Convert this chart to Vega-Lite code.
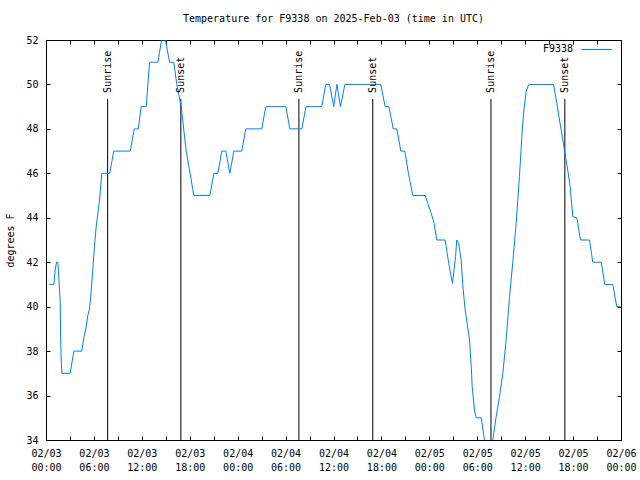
{
  "$schema": "https://vega.github.io/schema/vega-lite/v6.json",
  "width": 575,
  "height": 400,
  "autosize": {"type": "none"},
  "padding": {"left": 46, "top": 40, "right": 19, "bottom": 40},
  "background": "white",
  "title": {"text": "Temperature for F9338 on 2025-Feb-03 (time in UTC)", "font": "DejaVu Sans Mono", "fontSize": 10, "fontWeight": "normal", "color": "black", "anchor": "middle", "frame": "group", "offset": 10},
  "datasets": {
    "temps": [
      {"t": "2025-02-03T00:26:00Z", "v": 41},
      {"t": "2025-02-03T00:59:00Z", "v": 41},
      {"t": "2025-02-03T01:08:00Z", "v": 41.6},
      {"t": "2025-02-03T01:19:00Z", "v": 42},
      {"t": "2025-02-03T01:29:00Z", "v": 42},
      {"t": "2025-02-03T01:36:00Z", "v": 41.35},
      {"t": "2025-02-03T01:47:00Z", "v": 40.2},
      {"t": "2025-02-03T01:49:00Z", "v": 38.9},
      {"t": "2025-02-03T01:54:00Z", "v": 37.6},
      {"t": "2025-02-03T01:59:00Z", "v": 37},
      {"t": "2025-02-03T03:02:00Z", "v": 37},
      {"t": "2025-02-03T03:29:00Z", "v": 38},
      {"t": "2025-02-03T04:29:00Z", "v": 38},
      {"t": "2025-02-03T04:44:00Z", "v": 38.6},
      {"t": "2025-02-03T05:02:00Z", "v": 39.1},
      {"t": "2025-02-03T05:14:00Z", "v": 39.6},
      {"t": "2025-02-03T05:27:00Z", "v": 39.9},
      {"t": "2025-02-03T05:40:00Z", "v": 40.75},
      {"t": "2025-02-03T05:52:00Z", "v": 41.7},
      {"t": "2025-02-03T06:04:00Z", "v": 42.7},
      {"t": "2025-02-03T06:17:00Z", "v": 43.6},
      {"t": "2025-02-03T06:42:00Z", "v": 44.8},
      {"t": "2025-02-03T06:59:00Z", "v": 46},
      {"t": "2025-02-03T07:59:00Z", "v": 46},
      {"t": "2025-02-03T08:29:00Z", "v": 47},
      {"t": "2025-02-03T10:33:00Z", "v": 47},
      {"t": "2025-02-03T11:03:00Z", "v": 48},
      {"t": "2025-02-03T11:33:00Z", "v": 48},
      {"t": "2025-02-03T11:55:00Z", "v": 49},
      {"t": "2025-02-03T12:33:00Z", "v": 49},
      {"t": "2025-02-03T12:58:00Z", "v": 51},
      {"t": "2025-02-03T14:01:00Z", "v": 51},
      {"t": "2025-02-03T14:28:00Z", "v": 52},
      {"t": "2025-02-03T14:58:00Z", "v": 52},
      {"t": "2025-02-03T15:28:00Z", "v": 51},
      {"t": "2025-02-03T16:00:00Z", "v": 51},
      {"t": "2025-02-03T16:23:00Z", "v": 50},
      {"t": "2025-02-03T16:56:00Z", "v": 49},
      {"t": "2025-02-03T17:33:00Z", "v": 47},
      {"t": "2025-02-03T18:03:00Z", "v": 46},
      {"t": "2025-02-03T18:30:00Z", "v": 45},
      {"t": "2025-02-03T20:31:00Z", "v": 45},
      {"t": "2025-02-03T21:01:00Z", "v": 46},
      {"t": "2025-02-03T21:31:00Z", "v": 46},
      {"t": "2025-02-03T22:01:00Z", "v": 47},
      {"t": "2025-02-03T22:31:00Z", "v": 47},
      {"t": "2025-02-03T23:01:00Z", "v": 46},
      {"t": "2025-02-03T23:31:00Z", "v": 47},
      {"t": "2025-02-04T00:31:00Z", "v": 47},
      {"t": "2025-02-04T01:01:00Z", "v": 48},
      {"t": "2025-02-04T03:01:00Z", "v": 48},
      {"t": "2025-02-04T03:31:00Z", "v": 49},
      {"t": "2025-02-04T06:02:00Z", "v": 49},
      {"t": "2025-02-04T06:32:00Z", "v": 48},
      {"t": "2025-02-04T08:02:00Z", "v": 48},
      {"t": "2025-02-04T08:33:00Z", "v": 49},
      {"t": "2025-02-04T10:32:00Z", "v": 49},
      {"t": "2025-02-04T11:02:00Z", "v": 50},
      {"t": "2025-02-04T11:30:00Z", "v": 50},
      {"t": "2025-02-04T12:02:00Z", "v": 49},
      {"t": "2025-02-04T12:25:00Z", "v": 50},
      {"t": "2025-02-04T12:53:00Z", "v": 49},
      {"t": "2025-02-04T13:25:00Z", "v": 50},
      {"t": "2025-02-04T17:55:00Z", "v": 50},
      {"t": "2025-02-04T18:28:00Z", "v": 49},
      {"t": "2025-02-04T18:56:00Z", "v": 49},
      {"t": "2025-02-04T19:29:00Z", "v": 48},
      {"t": "2025-02-04T19:56:00Z", "v": 48},
      {"t": "2025-02-04T20:26:00Z", "v": 47},
      {"t": "2025-02-04T20:56:00Z", "v": 47},
      {"t": "2025-02-04T21:23:00Z", "v": 46},
      {"t": "2025-02-04T21:56:00Z", "v": 45},
      {"t": "2025-02-04T23:29:00Z", "v": 45},
      {"t": "2025-02-04T23:48:00Z", "v": 44.65},
      {"t": "2025-02-05T00:14:00Z", "v": 44.2},
      {"t": "2025-02-05T00:34:00Z", "v": 43.8},
      {"t": "2025-02-05T00:56:00Z", "v": 43},
      {"t": "2025-02-05T01:59:00Z", "v": 43},
      {"t": "2025-02-05T02:19:00Z", "v": 42.2},
      {"t": "2025-02-05T02:39:00Z", "v": 41.5},
      {"t": "2025-02-05T02:54:00Z", "v": 41.05},
      {"t": "2025-02-05T03:17:00Z", "v": 42.25},
      {"t": "2025-02-05T03:26:00Z", "v": 43},
      {"t": "2025-02-05T03:41:00Z", "v": 42.85},
      {"t": "2025-02-05T03:59:00Z", "v": 42.1},
      {"t": "2025-02-05T04:11:00Z", "v": 41},
      {"t": "2025-02-05T04:29:00Z", "v": 39.85},
      {"t": "2025-02-05T04:44:00Z", "v": 39.25},
      {"t": "2025-02-05T05:02:00Z", "v": 38.5},
      {"t": "2025-02-05T05:15:00Z", "v": 37.3},
      {"t": "2025-02-05T05:22:00Z", "v": 36.4},
      {"t": "2025-02-05T05:39:00Z", "v": 35.35},
      {"t": "2025-02-05T05:52:00Z", "v": 35},
      {"t": "2025-02-05T06:30:00Z", "v": 35},
      {"t": "2025-02-05T06:54:00Z", "v": 34},
      {"t": "2025-02-05T07:27:00Z", "v": 33.3},
      {"t": "2025-02-05T07:57:00Z", "v": 34},
      {"t": "2025-02-05T08:22:00Z", "v": 35.05},
      {"t": "2025-02-05T08:47:00Z", "v": 35.95},
      {"t": "2025-02-05T09:12:00Z", "v": 37},
      {"t": "2025-02-05T09:37:00Z", "v": 38.5},
      {"t": "2025-02-05T10:02:00Z", "v": 40.4},
      {"t": "2025-02-05T10:27:00Z", "v": 42},
      {"t": "2025-02-05T10:53:00Z", "v": 43.8},
      {"t": "2025-02-05T11:17:00Z", "v": 45.85},
      {"t": "2025-02-05T11:35:00Z", "v": 47.65},
      {"t": "2025-02-05T11:50:00Z", "v": 48.85},
      {"t": "2025-02-05T12:08:00Z", "v": 49.7},
      {"t": "2025-02-05T12:27:00Z", "v": 50},
      {"t": "2025-02-05T15:33:00Z", "v": 50},
      {"t": "2025-02-05T15:58:00Z", "v": 49.15},
      {"t": "2025-02-05T16:18:00Z", "v": 48.4},
      {"t": "2025-02-05T16:43:00Z", "v": 47.5},
      {"t": "2025-02-05T17:03:00Z", "v": 46.75},
      {"t": "2025-02-05T17:20:00Z", "v": 46.15},
      {"t": "2025-02-05T17:38:00Z", "v": 45.4},
      {"t": "2025-02-05T17:58:00Z", "v": 44.05},
      {"t": "2025-02-05T18:28:00Z", "v": 44},
      {"t": "2025-02-05T18:56:00Z", "v": 43},
      {"t": "2025-02-05T20:03:00Z", "v": 43},
      {"t": "2025-02-05T20:28:00Z", "v": 42},
      {"t": "2025-02-05T21:31:00Z", "v": 42},
      {"t": "2025-02-05T21:58:00Z", "v": 41},
      {"t": "2025-02-05T22:58:00Z", "v": 41},
      {"t": "2025-02-05T23:28:00Z", "v": 40},
      {"t": "2025-02-05T23:56:00Z", "v": 40}
    ],
    "events": [
      {"t": "2025-02-03T07:43:00Z", "event": "Sunrise"},
      {"t": "2025-02-03T16:53:00Z", "event": "Sunset"},
      {"t": "2025-02-04T07:40:00Z", "event": "Sunrise"},
      {"t": "2025-02-04T16:55:00Z", "event": "Sunset"},
      {"t": "2025-02-05T07:43:00Z", "event": "Sunrise"},
      {"t": "2025-02-05T16:58:00Z", "event": "Sunset"}
    ]
  },
  "layer": [
    {
      "data": {"name": "events"},
      "mark": {"type": "rule", "color": "black", "strokeWidth": 1},
      "encoding": {
        "x": {"field": "t", "type": "temporal",
          "scale": {"type": "utc", "domain": [1738540800000, 1738800000000]},
          "axis": {"orient": "top", "labels": false, "title": null, "tickSize": -4, "domain": false, "grid": false, "tickCount": 36}},
        "y": {"datum": 49.35, "type": "quantitative",
          "scale": {"domain": [34, 52], "nice": false, "zero": false},
          "axis": {"orient": "right", "labels": false, "title": null, "tickSize": -4, "domain": false, "grid": false, "values": [34, 36, 38, 40, 42, 44, 46, 48, 50, 52]}},
        "y2": {"datum": 34}
      }
    },
    {
      "data": {"name": "temps"},
      "mark": {"type": "line", "clip": true, "strokeWidth": 1},
      "encoding": {
        "x": {"field": "t", "type": "temporal",
          "scale": {"type": "utc", "domain": [1738540800000, 1738800000000]},
          "axis": {"orient": "bottom", "title": null, "tickSize": -4, "labelPadding": 12, "domain": false, "grid": false,
            "tickCount": 36, "labelOverlap": false, "labelFlush": false, "labelBound": false,
            "labelBaseline": "top", "labelLineHeight": 14,
            "labelExpr": "utchours(datum.value) % 6 == 0 ? [utcFormat(datum.value, '%m/%d'), utcFormat(datum.value, '%H:%M')] : ''"}},
        "y": {"field": "v", "type": "quantitative",
          "scale": {"domain": [34, 52], "nice": false, "zero": false},
          "axis": {"orient": "left", "title": "degrees F", "tickSize": -4, "labelPadding": 12, "domain": false, "grid": false,
            "values": [34, 36, 38, 40, 42, 44, 46, 48, 50, 52],
            "titleAngle": 270, "titleX": -36, "titleY": 200, "titleAlign": "center", "titleBaseline": "middle", "titleFontWeight": "normal"}},
        "color": {"datum": "F9338", "type": "nominal", "scale": {"range": ["#0080ff"]},
          "legend": {"orient": "none", "legendX": 497, "legendY": -6, "title": "F9338", "titleOrient": "left", "titleAnchor": "middle", "titleFontWeight": "normal",
            "titleFont": "DejaVu Sans Mono", "titleFontSize": 10, "titleColor": "black", "titleBaseline": "top", "titlePadding": 7,
            "labelExpr": "''", "symbolType": "stroke", "symbolSize": 900, "symbolStrokeWidth": 1, "padding": 0}}
      }
    },
    {
      "data": {"name": "events"},
      "mark": {"type": "text", "angle": 270, "align": "left", "baseline": "middle", "font": "DejaVu Sans Mono", "fontSize": 10, "color": "black"},
      "encoding": {
        "x": {"field": "t", "type": "temporal", "axis": null,
          "scale": {"type": "utc", "domain": [1738540800000, 1738800000000]}},
        "y": {"datum": 49.62, "type": "quantitative", "axis": null, "scale": {"domain": [34, 52], "nice": false, "zero": false}},
        "text": {"field": "event"}
      }
    }
  ],
  "resolve": {"axis": {"x": "independent", "y": "independent"}},
  "config": {
    "view": {"stroke": "black", "strokeWidth": 1},
    "axis": {"labelFont": "DejaVu Sans Mono", "labelFontSize": 10, "labelColor": "black", "tickColor": "black", "tickWidth": 1,
      "titleFont": "DejaVu Sans Mono", "titleFontSize": 10, "titleColor": "black"}
  }
}
